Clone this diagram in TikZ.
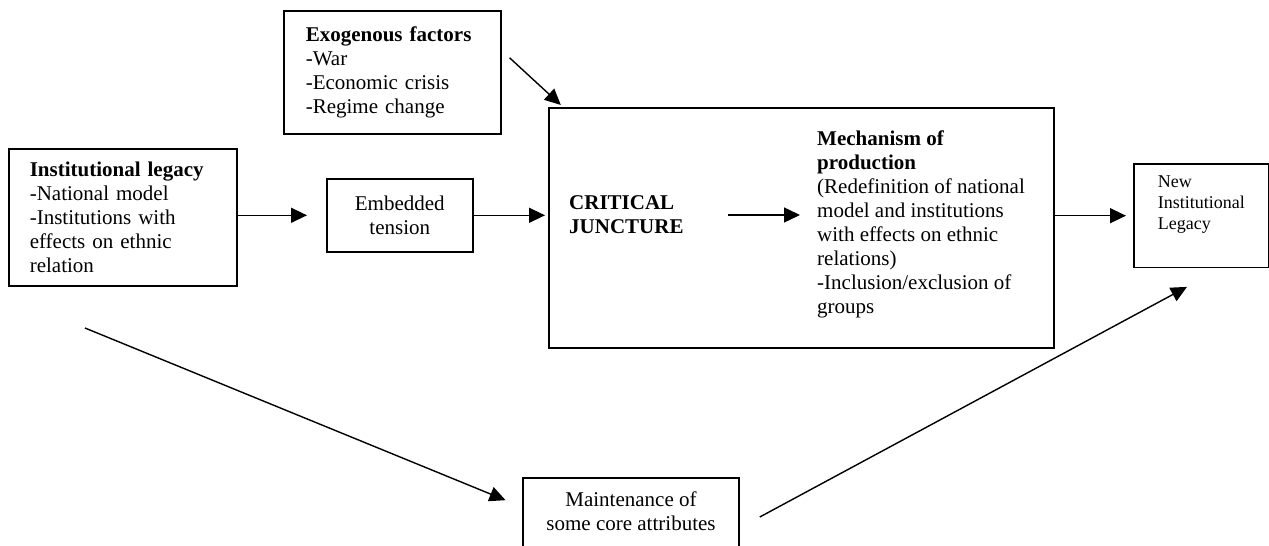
\documentclass[tikz,border=0pt]{standalone}
\usepackage{fontspec}
\setmainfont{Liberation Serif}
\usetikzlibrary{arrows.meta}

\begin{document}
\begin{tikzpicture}[x=1pt, y=-1pt,
    every node/.style = {font=\fontsize{21}{24}\selectfont},
    box/.style = {draw, line width=1.6pt},
    arr/.style = {-{Triangle[length=16pt, width=15pt]}, line width=1.4pt}]
  \useasboundingbox (0,0) rectangle (1269,546);
  \node [box, anchor=north west, minimum height=137pt, inner xsep=21pt, text width=186pt, align=left] (il) at (8,148)
    {\textbf{Institutional legacy}\\-National model\\-Institutions with\\effects on ethnic\\relation};
  \node [box, anchor=north west, minimum height=123pt, inner xsep=22pt, text width=173pt, align=left] (exo) at (283,10)
    {\textbf{Exogenous factors}\\-War\\-Economic crisis\\-Regime change};
  \node [box, anchor=north west, minimum width=146pt, minimum height=73pt, align=center] (et) at (326,178)
    {Embedded\\tension};
  \node [box, anchor=north west, minimum width=505pt, minimum height=240pt] (cj) at (548,107) {};
  \node [anchor=west, inner sep=0pt, align=left, font=\fontsize{21}{24}\selectfont\bfseries] (crit) at (569,215)
    {CRITICAL\\JUNCTURE};
  \node [anchor=west, inner sep=0pt, align=left] (mech) at (817,224)
    {\textbf{Mechanism of}\\\textbf{production}\\(Redefinition of national\\model and institutions\\with effects on ethnic\\relations)\\-Inclusion/exclusion of\\groups};
  \node [box, anchor=north west, minimum width=135pt, inner ysep=12pt, text depth=26pt, align=left, font=\fontsize{18}{21}\selectfont] (nil) at (1133,163)
    {New\\Institutional\\Legacy};
  \node [box, anchor=north, minimum width=216pt, inner ysep=13.7pt, text depth=60pt, align=center] (mnt) at (631,477)
    {Maintenance of\\some core attributes};
  \coordinate (tail) at (85,328);
  \draw [arr, shorten >=3pt] ([shift={(8,-14.5)}]exo.east) -- ([xshift=15pt]cj.north west);
  \draw [arr, shorten >=19pt] (il.east |- et.west) -- (et.west);
  \draw [arr, shorten >=3pt] (et.east) -- (cj.west |- et.east);
  \draw [arr, shorten <=44pt, shorten >=17pt] (crit.east) -- (mech.west |- crit.east);
  \draw [arr, shorten >=7pt] (cj.east |- nil.west) -- (nil.west);
  \draw [arr, shorten >=18pt] (tail) -- ([yshift=-30pt]mnt.north west);
  \draw [arr, shorten >=39pt] ([shift={(20,40)}]mnt.north east) -- ([xshift=20pt]nil.south);
\end{tikzpicture}
\end{document}
